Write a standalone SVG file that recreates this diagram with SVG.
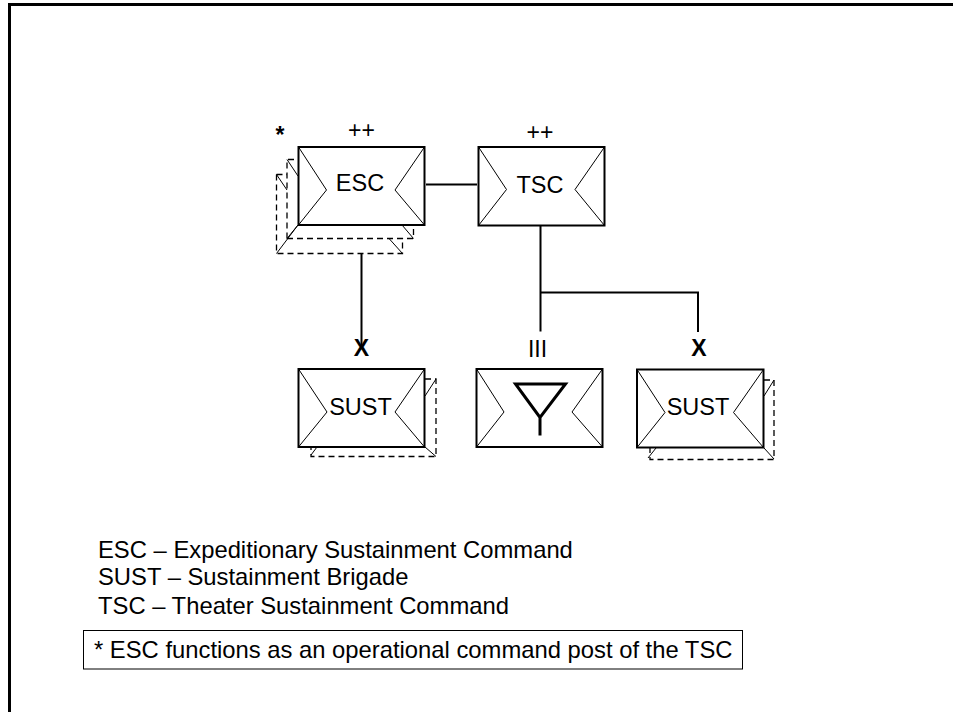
<svg xmlns="http://www.w3.org/2000/svg" width="953" height="712" viewBox="0 0 953 712">
<style>
text{font-family:"Liberation Sans",Arial,sans-serif;fill:#000}
.box{fill:#fff;stroke:#000;stroke-width:2}
.notch{fill:none;stroke:#000;stroke-width:1}
.dash{fill:none;stroke:#000;stroke-width:1.3;stroke-dasharray:6 4}
.thin{fill:none;stroke:#000;stroke-width:1}
.conn{fill:none;stroke:#000;stroke-width:2}
.lbl{font-size:23.5px;text-anchor:middle}
.ech{font-size:23px;text-anchor:middle}
.x{font-size:23px;font-weight:bold;text-anchor:middle}
.leg{font-size:23.8px}
</style>
<rect width="953" height="712" fill="#fff"/>
<path d="M9.5 712V4.500H953" fill="none" stroke="#000" stroke-width="3"/>
<g id="connectors">
<path class="conn" d="M426 184.500H477"/>
<path class="conn" d="M361.500 253V345"/>
<path class="conn" d="M540.500 226V331.500M540.500 292.500H698V332"/>
</g>
<g id="esc">
<path class="dash" d="M276.500 174.500V253.500H402.500V238M276.500 174.500H287"/>
<path class="dash" d="M287 238.500V159.500H298M287 238.500H413.500V225"/>
<path class="thin" d="M276.500 174.500L287 190M287 159.500L298 176M298 225L276.500 253.500M298 225L287 238.500M389 238.500L402.500 253.500M402 225L413.500 238.500"/>
<rect class="box" x="298.500" y="147" width="126" height="78"/>
<path class="notch" d="M298.500 147L326.500 190L298.500 225M424.500 147L395 190L424.500 225"/>
<text class="lbl" x="360" y="191">ESC</text>
<text class="ech" x="361.500" y="138">++</text>
<text x="280" y="143" font-size="23" font-weight="bold" text-anchor="middle">*</text>
</g>
<g id="tsc">
<rect class="box" x="478.500" y="147" width="126" height="78.500"/>
<path class="notch" d="M478.500 147L506.500 189.500L478.500 225.500M604.500 147L575 189.500L604.500 225.500"/>
<text class="lbl" x="540" y="193">TSC</text>
<text class="ech" x="540" y="140">++</text>
</g>
<g id="sust1">
<path class="dash" d="M425 379H436V456.500H311V447"/>
<path class="thin" d="M425 396L436 379M425 447L436 456.500M311 455L317 447"/>
<rect class="box" x="298.500" y="369" width="126" height="78"/>
<path class="notch" d="M298.500 369L327 412L298.500 447M424.500 369L395 412L424.500 447"/>
<text class="lbl" x="360.500" y="415">SUST</text>
<text class="x" x="361.500" y="356">X</text>
</g>
<g id="signal">
<rect class="box" x="476.500" y="369" width="126" height="78"/>
<path class="notch" d="M476.500 369L504 412L476.500 447M602.500 369L572 412L602.500 447"/>
<path d="M515.500 384H565.500L540 417.500ZM540 417.500V435.500" fill="none" stroke="#000" stroke-width="3"/>
<text class="ech" x="537.500" y="357">III</text>
</g>
<g id="sust2">
<path class="dash" d="M764 380H774V459.500H650V448"/>
<path class="thin" d="M764 396L774 380M764 448L774 459M648 458L656 448"/>
<rect class="box" x="637" y="369.500" width="126.500" height="78"/>
<path class="notch" d="M637 369.500L665 412.500L637 447.500M763.500 369.500L733.500 412.500L763.500 447.500"/>
<text class="lbl" x="698" y="414.500">SUST</text>
<text class="x" x="699" y="356">X</text>
</g>
<g id="legend">
<text class="leg" x="98" y="558">ESC – Expeditionary Sustainment Command</text>
<text class="leg" x="98" y="585">SUST – Sustainment Brigade</text>
<text class="leg" x="98" y="614">TSC – Theater Sustainment Command</text>
<rect x="83.500" y="630.500" width="659" height="38.500" fill="#fff" stroke="#000" stroke-width="1"/>
<text class="leg" x="94" y="658">* ESC functions as an operational command post of the TSC</text>
</g>
</svg>
